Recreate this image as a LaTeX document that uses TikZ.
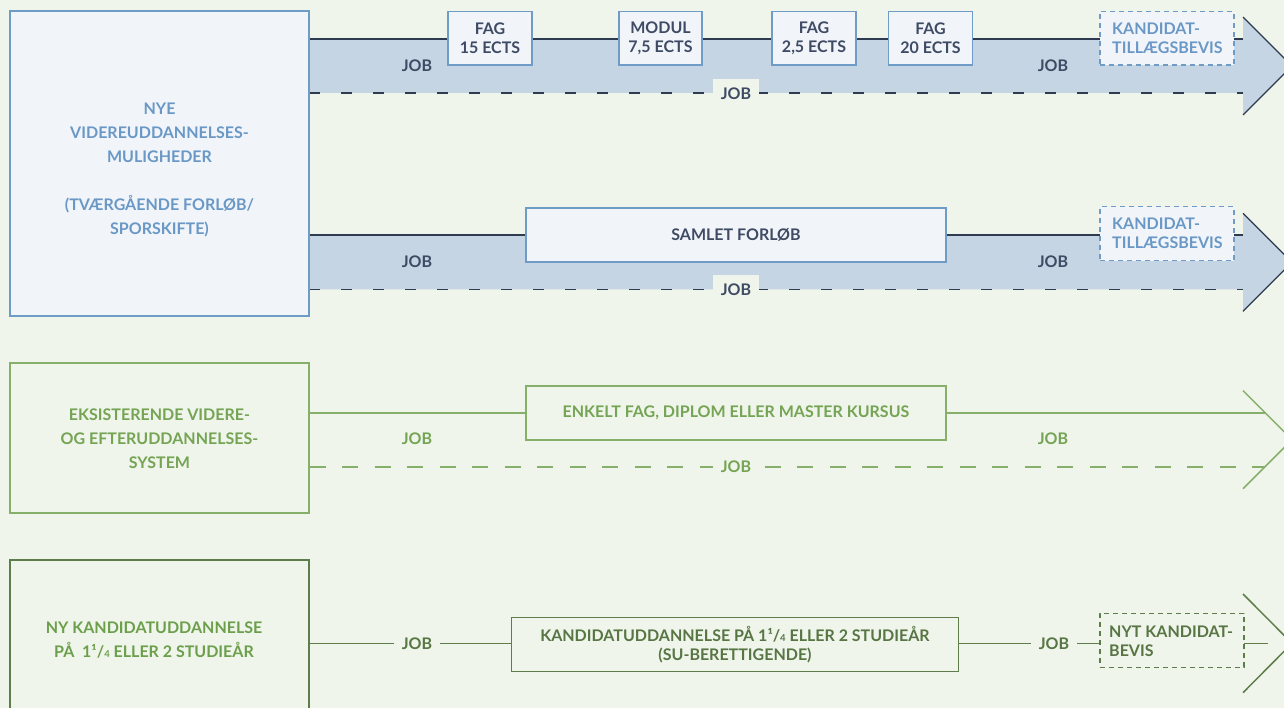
\documentclass[tikz,border=0pt]{standalone}
\usepackage{fontspec}
\setmainfont{Lato}
\definecolor{bg}{HTML}{EFF5EA}
\definecolor{boxfill}{HTML}{F1F5F9}
\definecolor{bblue}{HTML}{6F9BC7}
\definecolor{tblue}{HTML}{6A98C6}
\definecolor{band}{HTML}{C5D5E3}
\definecolor{dline}{HTML}{2E3A4F}
\definecolor{dtext}{HTML}{3F4B65}
\definecolor{gline}{HTML}{86B06A}
\definecolor{gtext}{HTML}{74A454}
\definecolor{dgline}{HTML}{5E7D4A}
\definecolor{dgtext}{HTML}{587544}
\definecolor{gfourtext}{HTML}{6C9F4B}
\newcommand{\qfrac}{1¹/{\fontsize{9.5}{9.5}\selectfont 4}}
\tikzset{
  txt/.style={font=\bfseries\fontsize{16}{19}\selectfont, inner sep=0pt, align=center},
  bigtxt/.style={font=\bfseries\fontsize{16}{24}\selectfont, inner sep=0pt, align=center},
  bluebox/.style={draw=bblue, fill=boxfill, line width=1.3pt, inner sep=0pt, txt, text=dtext},
  bluedash/.style={bluebox, dash pattern=on 5pt off 4pt},
  darkline/.style={draw=dline, line width=1.3pt},
  darkdash/.style={darkline, dash pattern=on 11pt off 21pt},
  greenline/.style={draw=gline, line width=2pt},
  greendash/.style={greenline, dash pattern=on 16pt off 16.5pt},
  greenbox/.style={draw=gline, fill=bg, line width=1.8pt, inner sep=0pt, txt, text=gtext},
  dgreenline/.style={draw=dgline, line width=1.5pt},
  dgreenbox/.style={draw=dgline, fill=bg, line width=1.5pt, inner sep=0pt, txt, text=dgtext},
  joblab/.style={txt, text=dtext},
  jobpatch/.style={txt, fill=bg, minimum width=46pt, minimum height=30pt},
}
\begin{document}
\begin{tikzpicture}[x=1pt,y=-1pt]
\useasboundingbox (0,0) rectangle (1284,708);
\clip (0,0) rectangle (1284,708);
\fill[bg] (0,0) rectangle (1284,708);

% ---------- Row 1 ----------
\coordinate (r1a) at (309,39);
\coordinate (r1b) at (1243,39);
\coordinate (r1c) at (309,93);
\coordinate (r1d) at (1243,93);
\coordinate (r1t) at (1243,17);
\coordinate (r1p) at (1292,66);
\coordinate (r1u) at (1243,115);
\fill[band] (r1a) -- (r1b) -- (r1t) -- (r1p) -- (r1u) -- (r1d) -- (r1c) -- cycle;
\draw[darkline] (r1a) -- (r1b);
\draw[darkdash] (r1c) -- (r1d);
\draw[darkline] (r1t) -- (r1p) -- (r1u);

% ---------- Row 2 ----------
\coordinate (r2a) at (309,235);
\coordinate (r2b) at (1243,235);
\coordinate (r2c) at (309,289.3);
\coordinate (r2d) at (1243,289.3);
\coordinate (r2t) at (1243,213.3);
\coordinate (r2p) at (1292,262.3);
\coordinate (r2u) at (1243,311.3);
\fill[band] (r2a) -- (r2b) -- (r2t) -- (r2p) -- (r2u) -- (r2d) -- (r2c) -- cycle;
\draw[darkline] (r2a) -- (r2b);
\draw[darkdash] (r2c) -- (r2d);
\draw[darkline] (r2t) -- (r2p) -- (r2u);

% left box rows 1-2
\node[bluebox, minimum width=299pt, minimum height=305pt] (lb1) at (159.5,163.5) {};
\node[bigtxt, text=tblue, anchor=north] (lt1) at (159.5,102.5) {NYE\\VIDEREUDDANNELSES-\\MULIGHEDER\\[24pt](TVÆRGÅENDE FORLØB/\\SPORSKIFTE)};

% row 1 boxes
\node[bluebox, minimum width=84pt, minimum height=53.3pt] (fag1) at (490,38.3) {FAG\\15 ECTS};
\node[bluebox, minimum width=83pt, minimum height=53.3pt] (mod) at (660.5,38.3) {MODUL\\7,5 ECTS};
\node[bluebox, minimum width=84pt, minimum height=53.3pt] (fag2) at (814,38.3) {FAG\\2,5 ECTS};
\node[bluebox, minimum width=84pt, minimum height=53.3pt] (fag3) at (930.5,38.3) {FAG\\20 ECTS};
\node[bluedash, minimum width=134pt, minimum height=53.3pt] (kb1) at (1167,38.3) {};
\node[txt, align=left, text=tblue, anchor=north west] (kt1) at (1112,22.5) {KANDIDAT-\\TILLÆGSBEVIS};
\node[joblab] (j1a) at (417,65.5) {JOB};
\node[joblab] (j1b) at (1053,65.5) {JOB};
\node[jobpatch, text=dtext] (j1c) at (736,94) {JOB};

% row 2 boxes
\node[bluebox, minimum width=420pt, minimum height=54pt] (sam) at (736,235) {SAMLET FORLØB};
\node[bluedash, minimum width=134pt, minimum height=54pt] (kb2) at (1167,233.7) {};
\node[txt, align=left, text=tblue, anchor=north west] (kt2) at (1112,218) {KANDIDAT-\\TILLÆGSBEVIS};
\node[joblab] (j2a) at (417,262) {JOB};
\node[joblab] (j2b) at (1053,262) {JOB};
\node[jobpatch, text=dtext] (j2c) at (736,290) {JOB};

% ---------- Row 3 ----------
\node[greenbox, minimum width=299pt, minimum height=150pt, font=\bfseries\fontsize{16}{24}\selectfont] (lb3) at (159.5,438.3) {EKSISTERENDE VIDERE-\\OG EFTERUDDANNELSES-\\SYSTEM};
\coordinate (r3b) at (1265,412.7);
\coordinate (r3d) at (1265,466.7);
\coordinate (r3t) at (1243,390.7);
\coordinate (r3p) at (1292,439.7);
\coordinate (r3u) at (1243,488.7);
\draw[greenline] (lb3.east |- r3b) -- (r3b);
\draw[greendash] (lb3.east |- r3d) -- (r3d);
\draw[draw=gline, line width=1.5pt] (r3t) -- (r3p) -- (r3u);
\node[greenbox, minimum width=420pt, minimum height=54pt] (enk) at (736,413) {ENKELT FAG, DIPLOM ELLER MASTER KURSUS};
\node[txt, text=gtext] (j3a) at (417,439) {JOB};
\node[txt, text=gtext] (j3b) at (1053,439) {JOB};
\node[jobpatch, text=gtext] (j3c) at (736,467) {JOB};

% ---------- Row 4 ----------
\node[dgreenbox, minimum width=299pt, minimum height=160pt] (lb4) at (159.5,640) {};
\node[bigtxt, text=gfourtext, anchor=north] (lt4) at (154,621.2) {NY KANDIDATUDDANNELSE\\PÅ\ \ \qfrac{} ELLER 2 STUDIEÅR};
\coordinate (r4e) at (1268,643.3);
\coordinate (r4t) at (1243,594);
\coordinate (r4p) at (1292,643.3);
\coordinate (r4u) at (1243,692.7);
\draw[dgreenline] (lb4.east |- r4e) -- (r4e);
\draw[dgreenline] (r4t) -- (r4p) -- (r4u);
\node[dgreenbox, minimum width=447pt, minimum height=54pt, font=\bfseries\fontsize{16}{19.5}\selectfont] (kud) at (735,644.7) {KANDIDATUDDANNELSE PÅ \qfrac{} ELLER 2 STUDIEÅR\\(SU-BERETTIGENDE)};
\node[dgreenbox, dash pattern=on 5pt off 4pt, minimum width=144pt, minimum height=54pt] (nyt) at (1172,640.3) {};
\node[txt, align=left, text=dgtext, anchor=north west] (nytt) at (1109,626.2) {NYT KANDIDAT-\\BEVIS};
\node[txt, text=dgtext, fill=bg, inner xsep=8pt, inner ysep=4pt] (j4a) at (417,643.5) {JOB};
\node[txt, text=dgtext, fill=bg, inner xsep=8pt, inner ysep=4pt] (j4b) at (1054,643.5) {JOB};
\end{tikzpicture}
\end{document}
